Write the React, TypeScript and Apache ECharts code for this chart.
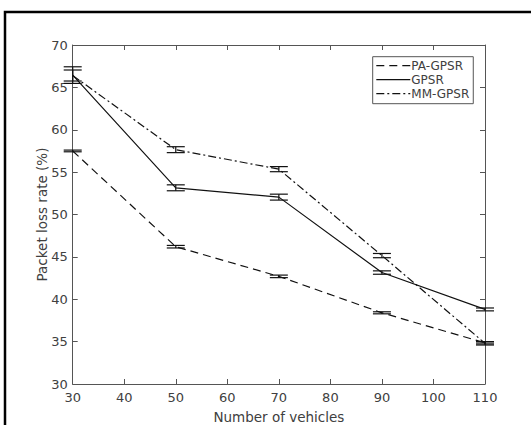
import React, { useEffect, useRef } from "react";
import * as echarts from "echarts";

const vehicles = [30, 50, 70, 90, 110];
const paMean = [57.5, 46.2, 42.7, 38.4, 34.85];
const paErr = [0.1, 0.15, 0.15, 0.12, 0.12];
const gpsrMean = [66.45, 53.15, 52.05, 43.15, 38.8];
const gpsrErr = [0.98, 0.35, 0.35, 0.2, 0.17];
const mmMean = [66.4, 57.65, 55.35, 45.15, 34.8];
const mmErr = [0.65, 0.35, 0.3, 0.25, 0.2];
const yTicks = { min: 30, max: 70, interval: 5 };
const xTicks = { min: 30, max: 110, interval: 10 };

const FONT = "DejaVu Sans";

function errSeries(name: string, mean: number[], err: number[]) {
  return {
    type: "custom",
    name: name + "-err",
    xAxisIndex: 0,
    yAxisIndex: 0,
    z: 3,
    silent: true,
    data: vehicles.map((x, i) => [x, mean[i] - err[i], mean[i] + err[i]]),
    renderItem: (params: any, api: any) => {
      const x = api.value(0);
      const lo = api.coord([x, api.value(1)]);
      const hi = api.coord([x, api.value(2)]);
      const half = 9;
      const style = { stroke: "#111", lineWidth: 1.2 };
      return {
        type: "group",
        children: [
          { type: "line", shape: { x1: lo[0], y1: lo[1], x2: hi[0], y2: hi[1] }, style },
          { type: "line", shape: { x1: lo[0] - half, y1: lo[1], x2: lo[0] + half, y2: lo[1] }, style },
          { type: "line", shape: { x1: hi[0] - half, y1: hi[1], x2: hi[0] + half, y2: hi[1] }, style },
        ],
      };
    },
  };
}

function lineSeries(name: string, mean: number[], dash: any) {
  return {
    type: "line",
    name,
    data: vehicles.map((x, i) => [x, mean[i]]),
    symbol: "none",
    showSymbol: false,
    lineStyle: { color: "#111", width: 1.2, type: dash },
    itemStyle: { color: "#111" },
    z: 4,
  };
}

export default function App() {
  const ref = useRef<HTMLDivElement>(null);
  useEffect(() => {
    if (!ref.current) return;
    const chart = echarts.init(ref.current, undefined, { renderer: "svg" });
    const axisColor = "#555";
    const textColor = "#404040";
    chart.setOption({
      animation: false,
      backgroundColor: "#fff",
      grid: {
        left: 72.7,
        top: 45,
        right: 46,
        bottom: 41,
        containLabel: false,
        outerBoundsMode: "none",
      },
      xAxis: [
        {
          type: "value",
          min: xTicks.min,
          max: xTicks.max,
          interval: xTicks.interval,
          name: "Number of vehicles",
          nameLocation: "middle",
          nameGap: 26,
          nameMoveOverlap: false,
          nameTextStyle: { fontFamily: FONT, fontSize: 13.5, color: textColor },
          axisLine: { show: true, lineStyle: { color: axisColor, width: 1 } },
          axisTick: { show: true, inside: true, length: 5, lineStyle: { color: axisColor } },
          axisLabel: { fontFamily: FONT, fontSize: 13, color: textColor, margin: 7 },
          splitLine: { show: false },
        },
        {
          type: "value",
          position: "top",
          min: xTicks.min,
          max: xTicks.max,
          interval: xTicks.interval,
          axisLine: { show: true, lineStyle: { color: axisColor, width: 1 } },
          axisTick: { show: true, inside: true, length: 5, lineStyle: { color: axisColor } },
          axisLabel: { show: false },
          splitLine: { show: false },
        },
      ],
      yAxis: [
        {
          type: "value",
          min: yTicks.min,
          max: yTicks.max,
          interval: yTicks.interval,
          name: "Packet loss rate (%)",
          nameLocation: "middle",
          nameGap: 24,
          nameMoveOverlap: false,
          nameTextStyle: { fontFamily: FONT, fontSize: 13.5, color: textColor },
          axisLine: { show: true, lineStyle: { color: axisColor, width: 1 } },
          axisTick: { show: true, inside: true, length: 5, lineStyle: { color: axisColor } },
          axisLabel: { fontFamily: FONT, fontSize: 13, color: textColor, margin: 5 },
          splitLine: { show: false },
        },
        {
          type: "value",
          position: "right",
          min: yTicks.min,
          max: yTicks.max,
          interval: yTicks.interval,
          axisLine: { show: true, lineStyle: { color: axisColor, width: 1 } },
          axisTick: { show: true, inside: true, length: 5, lineStyle: { color: axisColor } },
          axisLabel: { show: false },
          splitLine: { show: false },
        },
      ],
      legend: {
        data: ["PA-GPSR", "GPSR", "MM-GPSR"],
        orient: "vertical",
        left: 372.7,
        top: 56.7,
        padding: [3, 4, 4, 3],
        itemWidth: 34,
        itemHeight: 12,
        itemGap: 2,
        borderColor: axisColor,
        borderWidth: 1,
        backgroundColor: "#fff",
        selectedMode: false,
        itemStyle: { opacity: 0 },
        lineStyle: { width: 1.2 },
        textStyle: { fontFamily: FONT, fontSize: 12, color: textColor, padding: [0, 0, 0, -4] },
      },
      graphic: [
        {
          type: "rect",
          shape: { x: 5, y: 12, width: 700, height: 600 },
          style: { fill: "none", stroke: "#000", lineWidth: 2.5 },
          silent: true,
          z: 100,
        },
      ],
      series: [
        lineSeries("PA-GPSR", paMean, [8, 5]),
        lineSeries("GPSR", gpsrMean, "solid"),
        lineSeries("MM-GPSR", mmMean, [8, 3, 2, 3]),
        errSeries("PA-GPSR", paMean, paErr),
        errSeries("GPSR", gpsrMean, gpsrErr),
        errSeries("MM-GPSR", mmMean, mmErr),
      ],
    });
    return () => chart.dispose();
  }, []);
  return (
    <div
      ref={ref}
      style={{ position: "fixed", left: 0, top: 0, width: 531, height: 425 }}
    />
  );
}
